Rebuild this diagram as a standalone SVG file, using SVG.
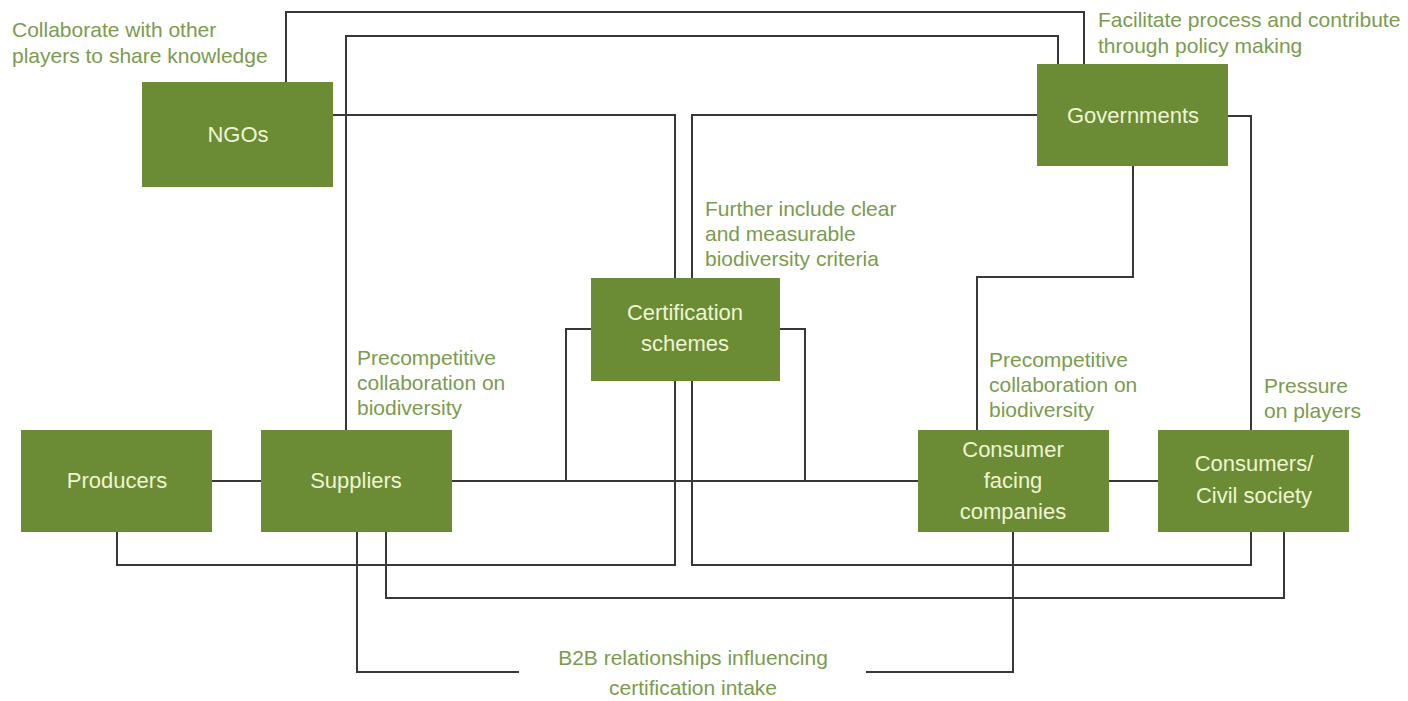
<svg xmlns="http://www.w3.org/2000/svg" width="1408" height="701" viewBox="0 0 1408 701">
  <style>
    .wire { fill: none; stroke: #383838; stroke-width: 2; }
    .box { fill: #6b8b35; }
    .name { font-family: "Liberation Sans", Arial, sans-serif; font-size: 22px; fill: #eef5d2; text-anchor: middle; }
    .note { font-family: "Liberation Sans", Arial, sans-serif; font-size: 21px; fill: #7b9b4f; }
  </style>
  <rect width="1408" height="701" fill="#ffffff"/>

  <g id="connectors">
    <path class="wire" d="M286,82 V12 H1084 V64"/>
    <path class="wire" d="M346,430 V36 H1058 V64"/>
    <path class="wire" d="M333,115 H675 V565 H117 V531"/>
    <path class="wire" d="M1037,115 H692 V565 H1251 V531"/>
    <path class="wire" d="M1228,116 H1251 V430"/>
    <path class="wire" d="M1133,166 V277 H977 V430"/>
    <path class="wire" d="M386,531 V598 H1284 V531"/>
    <path class="wire" d="M357,531 V672 H519"/>
    <path class="wire" d="M866,672 H1013 V531"/>
    <path class="wire" d="M212,481 H261"/>
    <path class="wire" d="M452,481 H918"/>
    <path class="wire" d="M1109,481 H1158"/>
    <path class="wire" d="M591,329 H566 V481"/>
    <path class="wire" d="M779,329 H805 V481"/>
  </g>

  <g id="ngos">
    <rect class="box" x="142" y="82" width="191" height="105"/>
    <text class="name" x="238" y="142">NGOs</text>
  </g>
  <g id="governments">
    <rect class="box" x="1037" y="64" width="191" height="102"/>
    <text class="name" x="1133" y="123">Governments</text>
  </g>
  <g id="certification">
    <rect class="box" x="591" y="278" width="189" height="103"/>
    <text class="name" x="685" y="320">Certification</text>
    <text class="name" x="685" y="351">schemes</text>
  </g>
  <g id="producers">
    <rect class="box" x="21" y="430" width="191" height="102"/>
    <text class="name" x="117" y="488">Producers</text>
  </g>
  <g id="suppliers">
    <rect class="box" x="261" y="430" width="191" height="102"/>
    <text class="name" x="356" y="488">Suppliers</text>
  </g>
  <g id="consumer-facing">
    <rect class="box" x="918" y="430" width="191" height="102"/>
    <text class="name" x="1013" y="457">Consumer</text>
    <text class="name" x="1013" y="488">facing</text>
    <text class="name" x="1013" y="519">companies</text>
  </g>
  <g id="consumers">
    <rect class="box" x="1158" y="430" width="191" height="102"/>
    <text class="name" x="1254" y="471">Consumers/</text>
    <text class="name" x="1254" y="503">Civil society</text>
  </g>

  <g id="labels">
    <text class="note" x="12" y="37">Collaborate with other</text>
    <text class="note" x="12" y="63">players to share knowledge</text>
    <text class="note" x="1098" y="27">Facilitate process and contribute</text>
    <text class="note" x="1098" y="53">through policy making</text>
    <text class="note" x="705" y="216">Further include clear</text>
    <text class="note" x="705" y="241">and measurable</text>
    <text class="note" x="705" y="266">biodiversity criteria</text>
    <text class="note" x="357" y="365">Precompetitive</text>
    <text class="note" x="357" y="390">collaboration on</text>
    <text class="note" x="357" y="415">biodiversity</text>
    <text class="note" x="989" y="367">Precompetitive</text>
    <text class="note" x="989" y="392">collaboration on</text>
    <text class="note" x="989" y="417">biodiversity</text>
    <text class="note" x="1264" y="393">Pressure</text>
    <text class="note" x="1264" y="418">on players</text>
    <text class="note" x="693" y="665" text-anchor="middle">B2B relationships influencing</text>
    <text class="note" x="693" y="695" text-anchor="middle">certification intake</text>
  </g>
</svg>
